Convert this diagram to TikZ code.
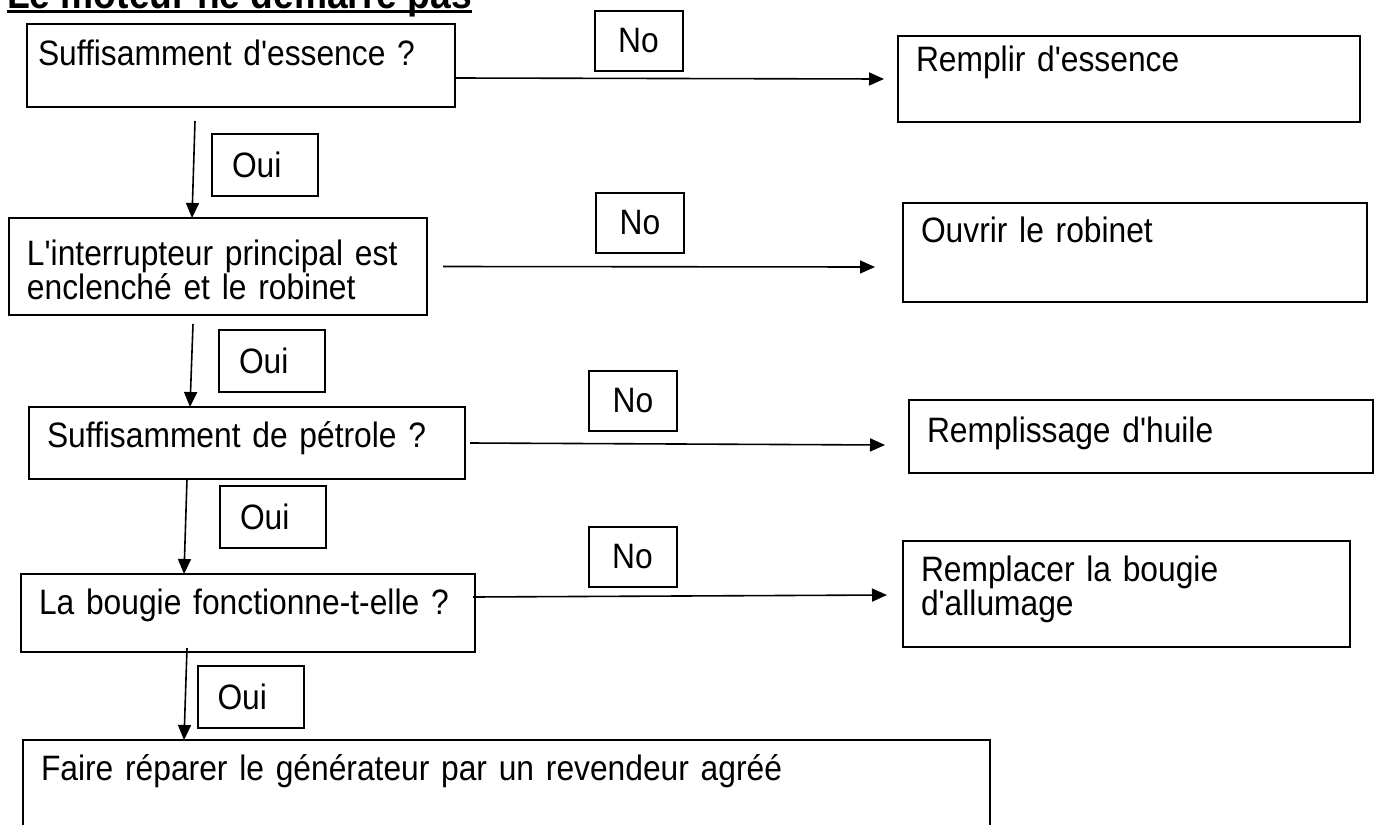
\documentclass[tikz,border=0pt]{standalone}
\usepackage{fontspec}
\newfontfamily\diagfont{Liberation Sans}[FakeStretch=0.9]
\usetikzlibrary{arrows.meta,positioning}
\newcommand{\boxfont}{\diagfont\fontsize{35.3pt}{34.5pt}\selectfont}
\newcommand{\titlefont}{\diagfont\fontsize{41.3pt}{40pt}\selectfont\bfseries}

\begin{document}
\begin{tikzpicture}[x=1pt, y=-1pt,
    stepbox/.style={draw, line width=2pt, anchor=north west, align=left, inner xsep=18pt, inner ysep=0pt, outer sep=0pt, font=\boxfont},
    yesbox/.style={draw, line width=2pt, minimum height=62pt, text width=66pt, inner xsep=20pt, align=left, font=\boxfont},
    nobox/.style={draw, line width=2pt, minimum width=88pt, minimum height=60pt, font=\boxfont},
    arr/.style={->, line width=1.6pt},
    >={Triangle[length=15pt, width=13pt]}
]
    \clip (0,0) rectangle (1377,825);

    % Title (cut at the top)
    \node[anchor=base west, inner sep=0pt, font=\titlefont] (title) at (7,8) {Le moteur ne démarre pas};
    \draw[line width=3pt] ([yshift=-3.5pt]title.base west) -- ([yshift=-3.5pt]title.base east);

    % Questions
    \node[stepbox, inner xsep=11pt, text width=406pt, text height=41pt, text depth=42pt] (q1) at (27,24) {Suffisamment d'essence ?};
    \node[stepbox, text width=382pt, text height=47pt, text depth=50pt] (q2) at (9,218) {L'interrupteur principal est\\enclenché et le robinet};
    \node[stepbox, text width=400pt, text height=40pt, text depth=32pt] (q3) at (29,407) {Suffisamment de pétrole ?};
    \node[stepbox, text width=418pt, text height=40pt, text depth=38pt] (q4) at (21,574) {La bougie fonctionne-t-elle ?};
    \node[stepbox, text width=931pt, text height=40pt, text depth=80pt] (fin) at (23,740) {Faire réparer le générateur par un revendeur agréé};

    % Actions
    \node[stepbox, text width=426pt, text height=35pt, text depth=51pt] (r1) at (898,36) {Remplir d'essence};
    \node[stepbox, text width=428pt, text height=39pt, text depth=60pt] (r2) at (903,203) {Ouvrir le robinet};
    \node[stepbox, text width=428pt, text height=42pt, text depth=31pt] (r3) at (909,400) {Remplissage d'huile};
    \node[stepbox, text width=411pt, text height=40pt, text depth=66pt] (r4) at (903,541) {Remplacer la bougie\\d'allumage};

    % Labels
    \node[nobox] (no1) at (638.5,40.5) {No};
    \node[nobox] (no2) at (640,222.5) {No};
    \node[nobox] (no3) at (633,400.5) {No};
    \node[nobox] (no4) at (632.5,557) {No};
    \node[yesbox] (oui1) at (265,164.5) {Oui};
    \node[yesbox] (oui2) at (272,360.5) {Oui};
    \node[yesbox] (oui3) at (273,517) {Oui};
    \node[yesbox] (oui4) at (250.5,697) {Oui};

    % No branches
    \draw[arr] ([yshift=-12.5pt]q1.east) -- ([xshift=-14pt]r1.west);
    \draw[arr] ([xshift=16pt]q2.east) -- ([xshift=-28pt, yshift=-14.5pt]r2.west);
    \draw[arr] ([xshift=5pt]q3.east) -- ([xshift=-24pt, yshift=-8.5pt]r3.west);
    \draw[arr] ([xshift=-2pt, yshift=16pt]q4.east) -- ([xshift=-16pt, yshift=-1pt]r4.west);

    % Oui branches
    \draw[arr] ([xshift=168pt, yshift=-14pt]q1.south west) -- ([xshift=183pt]q2.north west);
    \draw[arr] ([xshift=184pt, yshift=-9pt]q2.south west) -- ([xshift=161pt]q3.north west);
    \draw[arr] ([xshift=158pt]q3.south west) -- ([xshift=163pt]q4.north west);
    \draw[arr] ([xshift=166pt, yshift=4pt]q4.south west) -- ([xshift=161pt]fin.north west);
\end{tikzpicture}
\end{document}
